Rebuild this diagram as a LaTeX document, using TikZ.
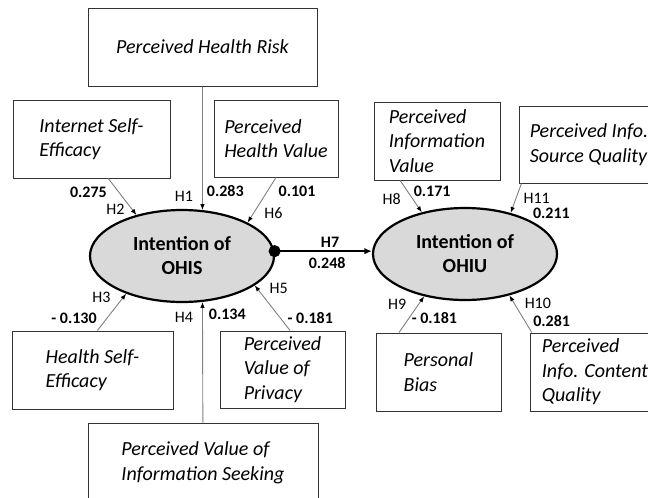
\documentclass[tikz,border=0pt]{standalone}
\usepackage{fontspec}
\setmainfont{Carlito}
\usetikzlibrary{positioning, shapes.geometric, arrows.meta}
\tikzstyle{factor} = [rectangle, draw=black!80, line width=1pt, align=left, inner sep=2pt, minimum height=78pt, font=\fontsize{20}{24.5}\selectfont\itshape]
\tikzstyle{intent} = [ellipse, draw=black, line width=2.2pt, fill=gray!30, minimum width=184pt, minimum height=92pt, align=center, font=\fontsize{20}{24}\selectfont\bfseries]
\tikzstyle{hyp} = [draw=gray, line width=0.9pt, -{Latex[length=6pt, width=4.5pt, black]}]
\tikzstyle{main} = [draw=black, line width=1.8pt, {Circle[length=12pt]}-{Latex[length=7.5pt, width=6.5pt]}, shorten <=-6pt]
\tikzstyle{lbl} = [inner sep=0pt, font=\fontsize{16}{18}\selectfont]
\tikzstyle{coef} = [lbl, font=\fontsize{16}{18}\selectfont\bfseries]

\begin{document}
\begin{tikzpicture}[x=1pt, y=-1pt, node distance=120pt]
    \useasboundingbox (0,0) rectangle (648,498);
    \clip (0,0) rectangle (648,498);
    % constructs
    \node (ohis) [intent] at (182,256) {Intention of\\OHIS};
    \node (ohiu) [intent] at (465,254) {Intention of\\OHIU};
    \node (phr) [factor, minimum width=229pt, above of = ohis, xshift=20.5pt, yshift=89pt] {Perceived Health Risk};
    \node (ise) [factor, minimum width=157pt, above of = ohis, xshift=-90.5pt, yshift=-3pt] {Internet Self-\\Efficacy};
    \node (phv) [factor, minimum width=124pt, minimum height=77pt, above of = ohis, xshift=94pt, yshift=-2.5pt] {Perceived\\Health Value};
    \node (hse) [factor, minimum width=161pt, below of = ohis, xshift=-89.5pt, yshift=6pt] {Health Self-\\Efficacy};
    \node (pvp) [factor, minimum width=125pt, minimum height=77pt, below of = ohis, xshift=100.5pt, yshift=6.5pt] {Perceived\\Value of\\Privacy};
    \node (pvis) [factor, minimum width=230pt, minimum height=80pt, below of = ohis, xshift=21pt, yshift=-87pt] {Perceived Value of\\Information Seeking};
    \node (piv) [factor, minimum width=126pt, above of = ohiu, xshift=-28pt, yshift=-7pt] {Perceived\\Information\\Value};
    \node (pisq) [factor, minimum width=139pt, minimum height=77pt, above of = ohiu, xshift=124pt, yshift=-10.5pt] {Perceived Info.\\Source Quality};
    \node (pb) [factor, minimum width=125pt, below of = ohiu, xshift=-26.5pt, yshift=2pt] {Personal\\Bias};
    \node (picq) [factor, minimum width=130pt, below of = ohiu, xshift=130pt, yshift=2pt] {Perceived\\Info. Content\\Quality};

    % hypotheses
    \draw [hyp] (phr) -- node[lbl, pos=.89, left=9pt] {H1} node[coef, pos=.85, right=4pt] {0.283} (ohis.66);
    \draw [hyp] (ise.-67) -- node[coef, pos=.39, left=12pt] {0.275} node[lbl, pos=.84, left=7pt] {H2} (ohis.138);
    \draw [hyp] (hse.83) -- node[lbl, pos=.89, left=12pt] {H3} node[coef, pos=.34, left=10pt] {- 0.130} (ohis.214);
    \draw [hyp] (pvis) -- node[lbl, pos=.87, left=9pt] {H4} node[coef, pos=.9, right=6pt] {0.134} (ohis.294);
    \draw [hyp] (pvp.79) -- node[lbl, pos=.93, right=12pt] {H5} node[coef, pos=.28, right=7pt] {- 0.181} (ohis.338);
    \draw [hyp] (phv.south) -- node[coef, pos=.31, right=11pt] {0.101} node[lbl, pos=.78, right=10pt] {H6} (ohis.27);
    \draw [main] (ohis.3) -- node[coef, pos=.57, above=3pt] {H7} node[coef, pos=.54, below=5pt] {0.248} (ohis.3 -| ohiu.west);
    \draw [hyp] (piv.-133) -- node[lbl, pos=.6, left=12pt] {H8} node[coef, pos=.33, right=6pt] {0.171} (ohiu.136);
    \draw [hyp] (pb.135) -- node[lbl, pos=.78, left=12pt] {H9} node[coef, pos=.41, right=2pt] {- 0.181} (ohiu.226);
    \draw [hyp] (picq.148) -- node[lbl, pos=.78, right=10pt] {H10} node[coef, pos=.31, right=8pt] {0.281} (ohiu.317);
    \draw [hyp] (pisq.-150) -- node[lbl, pos=.49, right=7pt] {H11} node[coef, pos=1, right=22pt] {0.211} (ohiu.42);
\end{tikzpicture}
\end{document}
